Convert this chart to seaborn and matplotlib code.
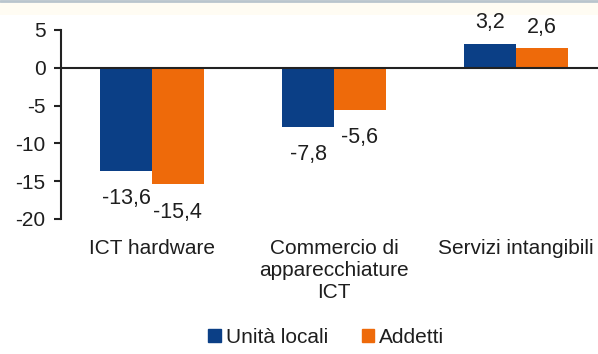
import matplotlib
matplotlib.use("Agg")
import matplotlib.pyplot as plt
from matplotlib.lines import Line2D
from matplotlib.patches import Rectangle
import seaborn as sns
import pandas as pd

categories = ["ICT hardware", "Commercio di\napparecchiature\nICT", "Servizi intangibili"]
unita_locali = [-13.6, -7.8, 3.2]
addetti = [-15.4, -5.6, 2.6]
series_names = ["Unità locali", "Addetti"]
y_ticks = [5, 0, -5, -10, -15, -20]

colors = ["#0b3f86", "#ee6a0a"]
text_color = "#1e1e1e"

sns.set_style("white")
plt.rcParams["font.family"] = ["Liberation Sans", "DejaVu Sans"]
plt.rcParams["axes.unicode_minus"] = False

df = pd.DataFrame({
    "categoria": categories * 2,
    "valore": unita_locali + addetti,
    "serie": [series_names[0]] * 3 + [series_names[1]] * 3,
})

fig = plt.figure(figsize=(5.98, 3.54), dpi=100)

# faint header band and rule along the top edge
fig.add_artist(Rectangle((0, 1 - 15 / 354), 1, 15 / 354, transform=fig.transFigure,
                         facecolor="#fffcf3", edgecolor="none", zorder=0))
fig.add_artist(Line2D([0, 1], [0.997, 0.997], transform=fig.transFigure,
                      color="#b9c5cd", linewidth=2))

ax = fig.add_axes([61 / 598, 1 - 219 / 354, 546 / 598, 189 / 354])
ax.patch.set_alpha(0)

sns.barplot(data=df, x="categoria", y="valore", hue="serie", hue_order=series_names,
            palette=colors, width=0.57, gap=0, saturation=1, errorbar=None,
            linewidth=0, ax=ax)

ax.set_xlim(-0.5, 2.5)
ax.set_ylim(-20, 5)
ax.set_yticks(y_ticks)
ax.set_yticklabels([str(t) for t in y_ticks])
ax.set_xlabel("")
ax.set_ylabel("")
ax.axhline(0, color="#222222", linewidth=1.5, zorder=3)

for s in ["top", "right", "bottom"]:
    ax.spines[s].set_visible(False)
ax.spines["left"].set_color("#222222")
ax.spines["left"].set_linewidth(1.5)
ax.tick_params(axis="y", which="major", left=True, length=5, width=1.5,
               color="#222222", labelsize=15, labelcolor=text_color, pad=6)
ax.tick_params(axis="x", bottom=False, labelsize=15, labelcolor=text_color, pad=11)

# value labels: above positive bars, below negative ones
for container in ax.containers:
    for bar, v in zip(container.patches, container.datavalues):
        x = bar.get_x() + bar.get_width() / 2
        above = v >= 0
        ax.annotate(f"{v:.1f}".replace(".", ","), xy=(x, v),
                    xytext=(0, 7.5 if above else -12.5), textcoords="offset points",
                    ha="center", va="bottom" if above else "top",
                    fontsize=15.5, color=text_color)

ax.legend_.remove()
handles = [Rectangle((0, 0), 1, 1, color=c) for c in colors]
fig.legend(handles, series_names, loc="center", bbox_to_anchor=(0.546, 0.048),
           ncol=2, frameon=False, fontsize=15, handlelength=0.6, handleheight=0.6,
           handletextpad=0.25, columnspacing=1.6, labelcolor=text_color)

fig.savefig("out.png", dpi=100)
